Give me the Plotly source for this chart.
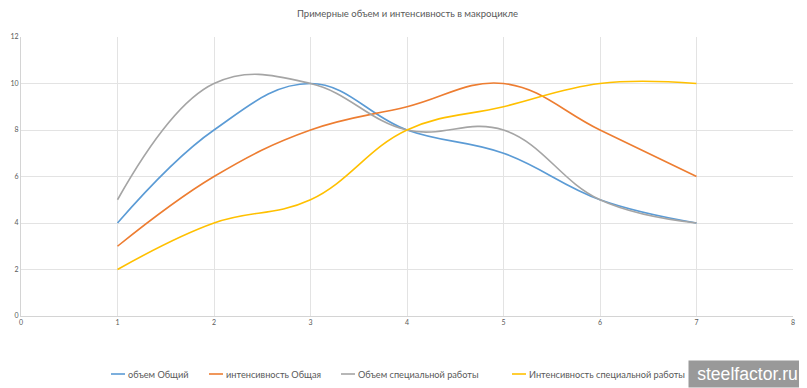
import plotly.graph_objects as go

x_vals = [1, 2, 3, 4, 5, 6, 7]
obem_obshchiy = [4, 8, 10, 8, 7, 5, 4]
intens_obshchaya = [3, 6, 8, 9, 10, 8, 6]
obem_spec = [5, 10, 10, 8, 8, 5, 4]
intens_spec = [2, 4, 5, 8, 9, 10, 10]

names = ["объем Общий", "интенсивность Общая", "Объем специальной работы", "Интенсивность специальной работы"]
colors = ["#5B9BD5", "#ED7D31", "#A5A5A5", "#FFC000"]
series = [obem_obshchiy, intens_obshchaya, obem_spec, intens_spec]

x_ticks = [0, 1, 2, 3, 4, 5, 6, 7, 8]
y_ticks = [0, 2, 4, 6, 8, 10, 12]

# the page body has an 8px margin, so the figure is 8px smaller than the window
W, H = 799, 380
ML, MR, MT, MB = 13, 14, 29, 72
PW, PH = W - ML - MR, H - MT - MB

def px_to_paper_x(page_x):
    return (page_x - 8 - ML) / PW

def px_to_paper_y(page_y):
    return (H - MB - (page_y - 8)) / PH

fig = go.Figure()
for n, c, s in zip(names, colors, series):
    fig.add_trace(go.Scatter(x=x_vals, y=s, name=n, mode="lines", showlegend=False,
                             line=dict(color=c, width=1.6, shape="spline", smoothing=1.15)))

fig.update_layout(
    width=W, height=H,
    paper_bgcolor="white", plot_bgcolor="white",
    margin=dict(l=ML, r=MR, t=MT, b=MB, autoexpand=False),
    font=dict(family="Lato, Open Sans, sans-serif", color="#595959"),
    title=dict(text="Примерные объем и интенсивность в макроцикле", x=0.5, xanchor="center",
               y=1 - 6 / H, yanchor="middle", font=dict(size=9.5, color="#595959")),
    showlegend=False,
    xaxis=dict(range=[0, 8], tickmode="array", tickvals=x_ticks, showgrid=True, gridcolor="#E3E3E3",
               gridwidth=1, zeroline=False, showline=True, linecolor="#D4D4D4", automargin=False,
               tickfont=dict(size=7, color="#595959"), ticks="", fixedrange=True),
    yaxis=dict(range=[0, 12], tickmode="array", tickvals=y_ticks, showgrid=True, gridcolor="#E3E3E3",
               gridwidth=1, zeroline=False, showline=True, linecolor="#D4D4D4", automargin=False,
               tickfont=dict(size=7, color="#595959"), ticks="", fixedrange=True),
)

# legend drawn like the reference's compact legend (short lines, tight text)
legend_line_starts = [111, 209, 341, 512]
legend_y = px_to_paper_y(374)
for n, c, lx in zip(names, colors, legend_line_starts):
    fig.add_shape(type="line", xref="paper", yref="paper",
                  x0=px_to_paper_x(lx), x1=px_to_paper_x(lx + 14), y0=legend_y, y1=legend_y,
                  line=dict(color=c, width=1.6))
    fig.add_annotation(text=n, xref="paper", yref="paper", x=px_to_paper_x(lx + 15), y=legend_y,
                       xanchor="left", yanchor="middle", showarrow=False,
                       font=dict(size=9.2, color="#595959"))

fig.add_annotation(text="steelfactor.ru", xref="paper", yref="paper", x=px_to_paper_x(807), y=px_to_paper_y(388),
                   xanchor="right", yanchor="bottom", showarrow=False, width=113, height=22,
                   align="center", valign="middle",
                   font=dict(size=17.6, color="white", family="Liberation Sans, Arial, sans-serif"),
                   bgcolor="#999999", borderpad=2)

fig.write_html("out.html")
